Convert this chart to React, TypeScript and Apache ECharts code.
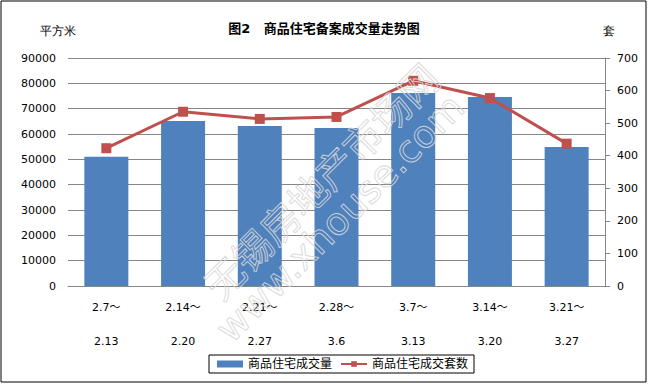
import React, { useEffect, useRef } from "react";
import * as echarts from "echarts";

const categories = ["2.7～\n\n2.13", "2.14～\n\n2.20", "2.21～\n\n2.27", "2.28～\n\n3.6", "3.7～\n\n3.13", "3.14～\n\n3.20", "3.21～\n\n3.27"];
const areaValues = [51000, 65100, 63200, 62400, 76200, 74600, 54900];
const unitValues = [423, 535, 513, 519, 630, 577, 437];
const seriesNames = ["商品住宅成交量", "商品住宅成交套数"];
const titleText = "图2   商品住宅备案成交量走势图";

const FONT = "'DejaVu Sans', 'Noto Sans CJK SC', sans-serif";

export default function App() {
  const ref = useRef<HTMLDivElement>(null);
  useEffect(() => {
    const chart = echarts.init(ref.current!, null, { renderer: "svg" });
    chart.setOption({
      animation: false,
      backgroundColor: "#fff",
      textStyle: { fontFamily: FONT },
      title: {
        text: titleText,
        left: 319,
        textAlign: "center",
        top: 17,
        textStyle: { fontSize: 13, fontWeight: "bold", color: "#000", fontFamily: FONT },
      },
      grid: { left: 68, right: 43, top: 58, bottom: 98, containLabel: false },
      legend: {
        left: 209,
        top: 355,
        padding: [3, 6, 3, 8],
        borderColor: "#000",
        borderWidth: 1,
        itemGap: 8,
        itemWidth: 26,
        itemHeight: 7,
        textStyle: { fontSize: 12, color: "#000", fontFamily: FONT },
        data: [
          { name: seriesNames[0], icon: "rect" },
          { name: seriesNames[1] },
        ],
      },
      xAxis: {
        type: "category",
        data: categories,
        axisLine: { show: true, lineStyle: { color: "#868686" } },
        axisTick: { show: false },
        axisLabel: { fontSize: 11, color: "#000", lineHeight: 17, margin: 13, fontFamily: FONT },
      },
      yAxis: [
        {
          type: "value",
          min: 0,
          max: 90000,
          interval: 10000,
          axisLine: { show: false },
          axisTick: { show: false },
          axisLabel: { fontSize: 11, color: "#000", margin: 12, fontFamily: FONT, formatter: (v: number) => String(v) },
          splitLine: { show: true, lineStyle: { color: "#868686", width: 1 } },
        },
        {
          type: "value",
          min: 0,
          max: 700,
          interval: 100,
          position: "right",
          axisLine: { show: true, lineStyle: { color: "#868686" } },
          axisTick: { show: true, length: 5, inside: false, lineStyle: { color: "#868686" } },
          axisLabel: { fontSize: 11, color: "#000", margin: 12, fontFamily: FONT, formatter: (v: number) => String(v) },
          splitLine: { show: false },
        },
      ],
      series: [
        {
          name: seriesNames[0],
          type: "bar",
          data: areaValues,
          barWidth: 44,
          itemStyle: { color: "#4F81BD" },
          yAxisIndex: 0,
        },
        {
          name: seriesNames[1],
          type: "line",
          data: unitValues,
          yAxisIndex: 1,
          symbol: "rect",
          symbolSize: 10,
          lineStyle: { color: "#C0504D", width: 3 },
          itemStyle: { color: "#C0504D" },
        },
      ],
      graphic: [
        {
          type: "rect",
          shape: { x: 1, y: 1, width: 645, height: 381 },
          style: { fill: "none", stroke: "#000", lineWidth: 1 },
          silent: true,
          z: 100,
        },
        {
          type: "text",
          left: 40,
          top: 25,
          style: { text: "平方米", fontSize: 12, fill: "#000", font: "12px 'Noto Sans CJK SC'" },
        },
        {
          type: "text",
          left: 603,
          top: 25,
          style: { text: "套", fontSize: 12, fill: "#000", font: "12px 'Noto Sans CJK SC'" },
        },
        {
          type: "text",
          x: 320,
          y: 180,
          rotation: Math.PI / 4,
          z: 50,
          silent: true,
          style: {
            text: "无锡房地产市场网",
            font: "39px 'Noto Sans CJK SC'",
            fill: "rgba(255,255,255,0)",
            stroke: "rgba(215,215,215,0.9)",
            lineWidth: 1,
            align: "center",
            verticalAlign: "middle",
          },
        },
        {
          type: "text",
          x: 340,
          y: 218,
          rotation: Math.PI / 4,
          z: 50,
          silent: true,
          style: {
            text: "www.xhouse.com",
            font: "38px 'DejaVu Sans'",
            fill: "rgba(255,255,255,0)",
            stroke: "rgba(215,215,215,0.9)",
            lineWidth: 1,
            align: "center",
            verticalAlign: "middle",
          },
        },
      ],
    });
    return () => chart.dispose();
  }, []);
  return <div ref={ref} style={{ position: "fixed", left: 0, top: 0, width: 648, height: 384 }} />;
}
